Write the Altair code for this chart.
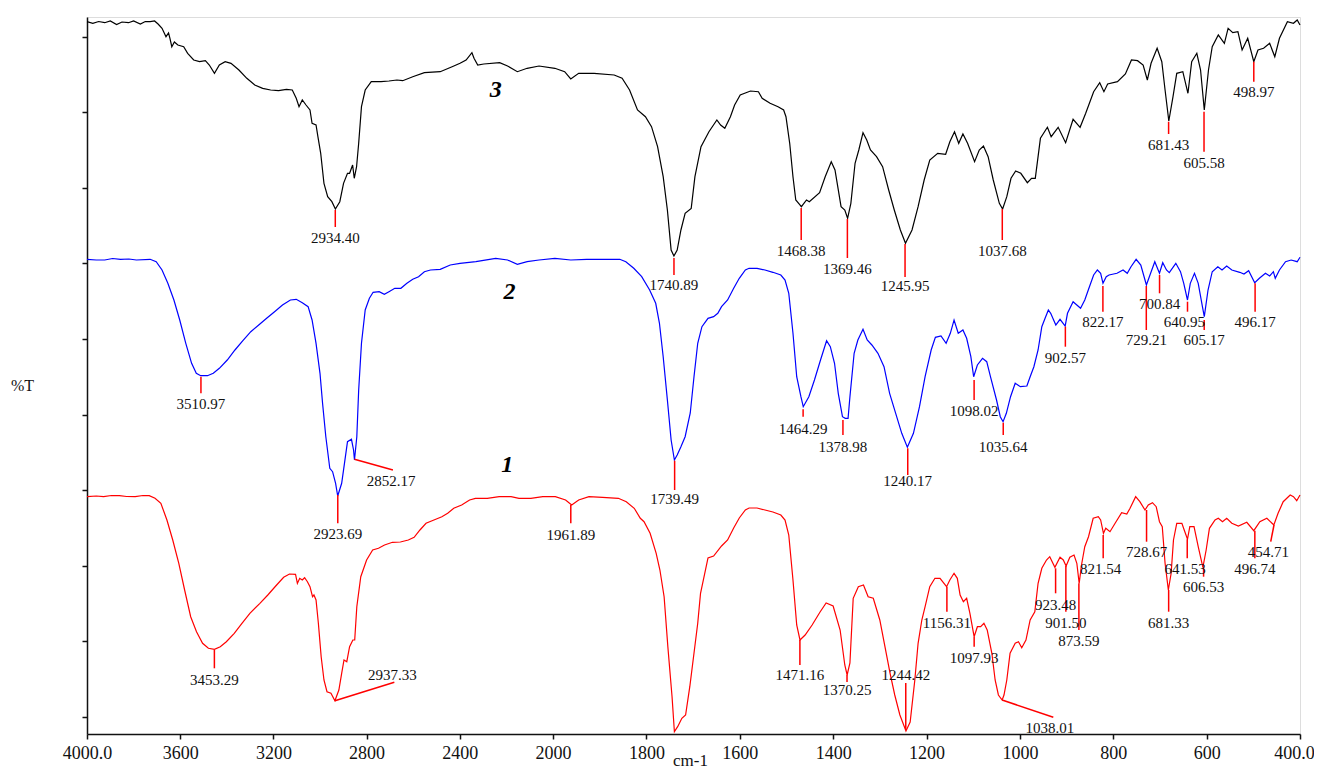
import altair as alt
import pandas as pd

# ---------------- spectra: (wavenumber cm-1, %T offset units) ----------------
SPEC3 = [
    (4000, 712.3), (3975, 710.7), (3950, 712.5), (3924, 711.3), (3900, 713), (3873, 709.5), (3850, 712),
    (3822, 711.3), (3800, 713), (3771, 710), (3750, 712.5), (3729, 712.3), (3710, 713), (3695, 710),
    (3678, 705.7), (3661, 697.3), (3650, 701), (3644, 695.7), (3636, 687.3), (3625, 692), (3610, 689),
    (3585, 687.3), (3568, 680.7), (3542, 674), (3517, 672.3), (3492, 673.3), (3475, 669), (3453, 660.7),
    (3432, 669), (3407, 672.3), (3382, 670.7), (3348, 664), (3314, 655.7), (3280, 649), (3246, 645.7),
    (3212, 644), (3178, 643.3), (3144, 644.7), (3119, 644), (3102, 635.7), (3090, 627.3), (3076, 634),
    (3060, 629), (3043, 624), (3034, 610.7), (3017, 609), (3009, 597.3), (2997, 580.7), (2983, 550.7),
    (2967, 537.3), (2949, 532.3), (2934, 525), (2915, 532.3), (2899, 550.7), (2882, 560.7), (2873, 560.7),
    (2860, 569), (2853, 555.7), (2843, 567.3), (2834, 590.7), (2822, 627.3), (2806, 644), (2780, 652.3),
    (2738, 652.3), (2704, 653), (2670, 654), (2645, 653.3), (2602, 657.3), (2552, 661.3), (2484, 662.3),
    (2433, 667.3), (2399, 670.7), (2373, 674), (2348, 681.3), (2339, 675.7), (2323, 669), (2297, 670),
    (2229, 671.3), (2195, 668), (2153, 662.3), (2111, 665.7), (2060, 668), (1996, 665.7), (1975, 662.3),
    (1962, 655), (1945, 660.7), (1912, 660.7), (1869, 659), (1852, 655.7), (1836, 644), (1819, 624),
    (1802, 617.3), (1789, 607.3), (1776, 587.3), (1764, 557.3), (1755, 524), (1747, 484), (1741, 478),
    (1734, 484), (1726, 504), (1717, 520.7), (1704, 525.5), (1696, 557.3), (1683, 587.3), (1666, 602.3),
    (1649, 614), (1641, 609), (1632, 605.7), (1620, 617.3), (1611, 629), (1599, 639), (1577, 643),
    (1560, 642.3), (1552, 635.7), (1535, 630.7), (1518, 627.3), (1506, 624), (1501, 617.3), (1493, 590.7),
    (1486, 557.3), (1480, 534), (1472, 529.7), (1468, 527.3), (1457, 534), (1451, 532.3), (1429, 541.3),
    (1417, 557.3), (1404, 572.3), (1396, 564), (1383, 527.3), (1375, 524), (1369, 515.7), (1362, 530.7),
    (1353, 570.7), (1345, 584), (1336, 601.3), (1328, 594), (1320, 584), (1307, 577.3), (1294, 567.3),
    (1281, 544), (1269, 524), (1256, 504), (1245, 490.7), (1231, 504), (1218, 527.3), (1205, 554),
    (1193, 574), (1176, 580.7), (1159, 579.7), (1150, 592.3), (1140, 602.3), (1131, 590.7), (1122, 600),
    (1112, 590.7), (1097, 572.3), (1087, 584), (1078, 588), (1068, 577.3), (1057, 554), (1044, 530.7),
    (1037, 525), (1028, 537.3), (1019, 555.7), (1009, 563), (998, 560.7), (984, 551.3), (975, 555.7),
    (967, 555.7), (956, 595.7), (941, 606.7), (933, 597.3), (918, 606.7), (902, 591.3), (886, 614.7),
    (871, 606.7), (859, 620.7), (842, 642.3), (829, 651.3), (820, 642.3), (812, 650), (791, 652.3),
    (774, 660), (761, 674), (748, 673.3), (736, 669), (727, 654), (719, 670.7), (706, 685.7), (696, 672.3),
    (689, 644), (681, 613), (672, 637.3), (664, 660.7), (651, 662.3), (640, 640.7), (632, 672.3),
    (621, 680.7), (613, 664), (605, 624), (596, 664), (588, 687.3), (575, 699), (562, 690.7), (554, 705.7),
    (544, 701.3), (533, 702.3), (524, 684), (512, 695.7), (499, 672.3), (490, 684), (478, 685.7),
    (465, 690.7), (454, 677.3), (444, 695.7), (427, 712.3), (414, 710.7), (406, 714), (400, 709),
]

SPEC2 = [
    (4000, 474.7), (3960, 474), (3924, 474), (3890, 475.5), (3856, 474.7), (3820, 475), (3788, 474),
    (3729, 474.7), (3703, 472.3), (3678, 464), (3653, 450.7), (3627, 434), (3602, 414), (3576, 390.7),
    (3551, 370.7), (3531, 360.7), (3512, 358.3), (3483, 358.3), (3458, 360.7), (3432, 365.7), (3398, 374),
    (3365, 384), (3331, 393.3), (3297, 402.3), (3263, 409), (3229, 415.7), (3195, 422.3), (3161, 429),
    (3127, 434), (3102, 434.7), (3076, 431.3), (3051, 427.3), (3034, 414), (3017, 390.7), (3000, 360.7),
    (2989, 330.7), (2975, 297.3), (2958, 265.7), (2946, 262.3), (2933, 250.7), (2924, 238), (2907, 250.7),
    (2895, 270.7), (2882, 292.3), (2865, 294.7), (2856, 284), (2852, 274), (2842, 297.3), (2834, 344),
    (2822, 390.7), (2806, 424), (2788, 435.7), (2772, 441.7), (2746, 442.3), (2724, 439.7), (2704, 442.3),
    (2679, 445.7), (2653, 445.7), (2627, 450.7), (2602, 454.7), (2577, 457.3), (2552, 462.3), (2526, 464),
    (2484, 464.7), (2441, 469), (2399, 470.7), (2331, 472.3), (2246, 475.7), (2195, 474), (2153, 469.7),
    (2111, 472.3), (2060, 474), (1996, 475.7), (1962, 474), (1928, 474.7), (1895, 474.7), (1857, 474.7),
    (1844, 472.3), (1827, 465.7), (1810, 457.3), (1793, 444), (1780, 430.7), (1772, 410.7), (1764, 377.3),
    (1755, 334), (1747, 294), (1740, 274), (1734, 279), (1726, 287.3), (1717, 297.3), (1706, 321),
    (1698, 357.3), (1690, 390.7), (1681, 407.3), (1668, 415.7), (1656, 417.3), (1647, 420.7), (1639, 427.3),
    (1626, 434), (1613, 445.7), (1601, 455.7), (1588, 464), (1580, 465.7), (1563, 465.7), (1546, 464),
    (1529, 461.7), (1512, 459), (1503, 454), (1495, 440.7), (1486, 400.7), (1478, 357.3), (1469, 337.3),
    (1464, 327.3), (1452, 337.3), (1440, 354), (1427, 374), (1414, 393.3), (1406, 387.3), (1397, 370.7),
    (1389, 340.7), (1380, 317.3), (1374, 315.7), (1368, 315.7), (1364, 337.3), (1355, 380.7), (1347, 394),
    (1336, 404.7), (1327, 394), (1317, 389), (1304, 380.7), (1291, 367.3), (1279, 340.7), (1266, 320.7),
    (1253, 300.7), (1241, 286.7), (1228, 300.7), (1215, 327.3), (1203, 357.3), (1190, 384), (1181, 396.7),
    (1169, 398), (1158, 390.7), (1149, 400.7), (1141, 414), (1132, 400.7), (1122, 404), (1114, 395.7),
    (1105, 377.3), (1099, 357.3), (1091, 369), (1080, 375.7), (1071, 372.3), (1063, 357.3), (1050, 334),
    (1042, 317.3), (1036, 312.3), (1029, 320.7), (1020, 337.3), (1010, 350.7), (999, 347.3), (985, 348),
    (978, 357.3), (970, 367.3), (961, 384), (953, 407.3), (946, 415.7), (939, 424), (934, 420.7),
    (923, 409), (914, 414.7), (903, 408), (898, 420.7), (886, 432.3), (878, 429), (870, 425.7), (861, 434),
    (851, 447.3), (842, 459), (834, 464), (827, 460.7), (822, 450.7), (815, 457.3), (809, 459), (792, 460.7),
    (779, 464), (770, 460.7), (762, 467.3), (751, 474.7), (741, 469), (732, 454), (729, 449), (720, 460.7),
    (711, 472.3), (701, 460.7), (694, 471.3), (686, 464), (680, 461.3), (666, 470.7), (656, 462.3),
    (649, 450.7), (641, 434), (635, 450.7), (626, 460.7), (618, 450.7), (609, 427.3), (605, 417.3),
    (597, 444), (588, 462.3), (576, 467.3), (567, 464), (557, 468), (546, 464), (529, 461.7), (520, 460),
    (510, 463.3), (497, 451.3), (487, 455.7), (474, 460.7), (465, 458), (457, 462.3), (453, 455.7),
    (444, 464), (431, 472.3), (419, 474), (406, 472.3), (400, 476.7),
]

SPEC1 = [
    (4000, 237.3), (3960, 238), (3929, 237.3), (3895, 238.5), (3861, 238.3), (3830, 237.5), (3793, 237.3),
    (3760, 238.5), (3733, 238.3), (3708, 235.7), (3683, 230.7), (3657, 214), (3632, 194), (3606, 170.7),
    (3581, 144), (3555, 117.3), (3530, 102.3), (3504, 90.7), (3479, 85.7), (3453, 84.7), (3428, 87.3),
    (3402, 92.3), (3368, 100.7), (3335, 110.7), (3301, 120.7), (3258, 130.7), (3224, 139), (3190, 148),
    (3156, 156.7), (3131, 160), (3105, 159.7), (3097, 150.7), (3087, 155.7), (3076, 154), (3066, 156.3),
    (3054, 152.3), (3043, 147.3), (3032, 137.3), (3026, 139), (3017, 134), (3007, 110.7), (2995, 77.3),
    (2983, 54), (2970, 42.3), (2953, 40.7), (2936, 33.3), (2919, 44), (2907, 60.7), (2897, 74), (2885, 72.3),
    (2873, 87.3), (2859, 94), (2851, 94), (2842, 127.3), (2825, 157.3), (2800, 174), (2774, 184),
    (2749, 185.7), (2723, 189), (2689, 191.7), (2655, 192), (2621, 194), (2596, 196.7), (2571, 204),
    (2545, 210.7), (2511, 214), (2477, 217.3), (2452, 220.7), (2426, 225.7), (2392, 229), (2358, 234),
    (2333, 235.7), (2282, 235.7), (2231, 237.3), (2180, 237.3), (2146, 235.7), (2095, 235.7), (2044, 237.3),
    (1995, 237.3), (1973, 234), (1960, 229), (1945, 234), (1923, 237.3), (1894, 236.7), (1860, 235.7),
    (1843, 232.3), (1826, 225.7), (1813, 215.7), (1805, 212.3), (1792, 200.7), (1779, 180.7), (1771, 164),
    (1762, 137.3), (1754, 87.3), (1745, 37.3), (1740, 2.3), (1733, 7.3), (1724, 15.7), (1716, 19),
    (1707, 47.3), (1690, 110.7), (1684, 140.7), (1668, 176), (1656, 178), (1639, 188), (1626, 194),
    (1613, 206), (1601, 216), (1588, 224), (1580, 226), (1563, 226), (1546, 224), (1529, 222), (1512, 219),
    (1503, 214), (1495, 199), (1486, 154), (1478, 109), (1471, 94), (1460, 99), (1445, 109), (1428, 122),
    (1415, 131), (1400, 128), (1385, 104), (1375, 69), (1370, 59), (1364, 71), (1357, 135.7), (1346, 147.3),
    (1335, 149), (1325, 137.3), (1314, 135.7), (1300, 114), (1289, 87.3), (1278, 60.7), (1268, 39),
    (1257, 19), (1244, 3), (1235, 12), (1225, 54), (1218, 90.7), (1210, 114), (1203, 127.3), (1193, 147.3),
    (1182, 155.7), (1171, 155.7), (1157, 147.3), (1150, 154), (1141, 160.7), (1134, 155.7), (1128, 139),
    (1121, 132.3), (1114, 135.7), (1107, 120.7), (1098, 97.3), (1091, 107.3), (1084, 107.3), (1077, 110.7),
    (1070, 104), (1060, 80.7), (1053, 54), (1046, 39), (1038, 34), (1034, 39), (1028, 54), (1021, 80.7),
    (1010, 90.7), (1003, 92.3), (996, 86.3), (987, 94), (978, 114), (968, 122.3), (961, 150.7), (953, 165.7),
    (943, 174), (936, 177.3), (925, 166.7), (914, 176.7), (907, 174), (901, 168), (893, 176.7), (884, 179),
    (878, 170.7), (873, 150.7), (868, 169), (861, 187.3), (853, 197.3), (843, 215.7), (832, 217.3),
    (827, 214), (821, 200.7), (816, 205.7), (807, 202.3), (796, 210.7), (782, 221.3), (771, 220),
    (764, 225.7), (752, 237.3), (743, 232.3), (732, 224), (725, 229), (716, 231.3), (708, 227.3),
    (701, 212.3), (695, 207.3), (689, 170.7), (682, 144), (676, 160.7), (671, 194), (664, 210.7),
    (653, 210.7), (648, 204), (641, 194.7), (636, 207.3), (627, 207.3), (618, 187.3), (608, 166.7),
    (601, 184), (594, 205.7), (582, 214), (575, 215.7), (566, 212.3), (557, 215.7), (546, 210.7), (532, 208),
    (514, 211.7), (499, 203.3), (486, 212.3), (471, 215.7), (456, 209), (447, 220.7), (436, 232.3),
    (421, 239), (414, 237.3), (407, 233.3), (400, 239),
]

SERIES_NAMES = ["3", "2", "1"]
SERIES_COLORS = ["#000000", "#0000ff", "#ff0000"]

# ---------------- peak annotations ----------------
# (label, line x1, line y1, line x2, line y2, text x, text y)
PEAKS = [
    ("2934.40", 2934.4, 524, 2934.4, 507, 2934.4, 496),
    ("1740.89", 1740.89, 476, 1740.89, 459, 1740.89, 449),
    ("1468.38", 1468.38, 526, 1468.38, 494, 1468.38, 483.3),
    ("1369.46", 1369.46, 515, 1369.46, 476, 1369.46, 464.7),
    ("1245.95", 1245.95, 490, 1245.95, 457, 1245.95, 448),
    ("1037.68", 1037.68, 525, 1037.68, 494, 1037.68, 483.3),
    ("681.43", 681.43, 612.3, 681.43, 600, 681.43, 589),
    ("605.58", 605.58, 622.3, 605.58, 582.3, 605.58, 570.7),
    ("498.97", 498.97, 672.3, 498.97, 652.3, 498.97, 642.3),
    ("3510.97", 3510.97, 357.3, 3510.97, 340.7, 3510.97, 330),
    ("2923.69", 2923.69, 239, 2923.69, 210.7, 2923.69, 200),
    ("2852.17", 2852.17, 274.7, 2687, 264, 2695, 253.3),
    ("1739.49", 1739.49, 273.3, 1739.49, 244, 1739.49, 234.7),
    ("1464.29", 1464.29, 324.7, 1464.29, 317.3, 1464.29, 305),
    ("1378.98", 1378.98, 314, 1378.98, 299, 1378.98, 287.3),
    ("1240.17", 1240.17, 285.7, 1240.17, 259, 1240.17, 253.3),
    ("1098.02", 1098.02, 354, 1098.02, 334, 1098.02, 323.3),
    ("1035.64", 1035.64, 311.3, 1035.64, 299, 1035.64, 287.3),
    ("902.57", 902.57, 407.3, 902.57, 387.3, 902.57, 375.7),
    ("822.17", 822.17, 448, 822.17, 422.3, 822.17, 411.7),
    ("729.21", 729.21, 448, 729.21, 404, 729.21, 394),
    ("700.84", 700.84, 459, 700.84, 440.7, 700.84, 429.7),
    ("640.95", 640.95, 432.3, 640.95, 422.3, 647.5, 411.7),
    ("605.17", 605.17, 414, 605.17, 404, 605.17, 394),
    ("496.17", 496.17, 450.7, 496.17, 422.3, 496.17, 411.7),
    ("1961.89", 1961.89, 229, 1961.89, 210.7, 1961.89, 199),
    ("3453.29", 3453.29, 84, 3453.29, 65.7, 3453.29, 54),
    ("2937.33", 2936, 33.3, 2681, 51.7, 2689, 59),
    ("1471.16", 1471.16, 94, 1471.16, 69, 1471.16, 59),
    ("1370.25", 1370.25, 59, 1370.25, 52, 1370.25, 44),
    ("1244.42", 1244.42, 4, 1244.42, 51, 1244.42, 59),
    ("1156.31", 1156.31, 147.3, 1156.31, 122.3, 1156.31, 111.3),
    ("1097.93", 1097.93, 97.3, 1097.93, 87.3, 1097.93, 75.7),
    ("1038.01", 1038, 34, 928.4, 16.7, 935.5, 5.7),
    ("923.48", 923.48, 165.7, 923.48, 140.7, 923.48, 129),
    ("901.50", 901.5, 168, 901.5, 122.3, 901.5, 111.3),
    ("873.59", 873.59, 150.7, 873.59, 104, 873.59, 93.3),
    ("821.54", 821.54, 199, 821.54, 175.7, 826.9, 164.7),
    ("728.67", 728.67, 224, 728.67, 192.3, 728.67, 182.3),
    ("681.33", 681.33, 144, 681.33, 122.3, 681.33, 111.3),
    ("641.53", 641.53, 194.7, 641.53, 175.7, 646.3, 164.7),
    ("606.53", 606.53, 166.7, 606.53, 157.3, 606.53, 146.7),
    ("496.74", 496.74, 203.3, 496.74, 175.7, 496.74, 164.7),
    ("454.71", 455.7, 209, 462.7, 192.3, 467.9, 182.3),
]

# series number labels (text, wavenumber, T)
SERIES_LABELS = [("3", 2246, 644), ("2", 2187, 442.3), ("1", 2196, 269)]

X_TICKS = [4000, 3600, 3200, 2800, 2400, 2000, 1800, 1600, 1400, 1200, 1000, 800, 600, 400]
Y_TICKS = [17, 54.8, 92.6, 130.4, 168.2, 206, 243.8, 281.6, 319.4, 357.2, 395, 432.8,
           470.6, 508.4, 546.2, 584, 621.8, 659.6, 697.4, 717]

# ---------------- build tables ----------------
rows = []
for name, spec in zip(SERIES_NAMES, [SPEC3, SPEC2, SPEC1]):
    for wn, t in spec:
        rows.append({"wn": wn, "T": t, "series": name})
spec_df = pd.DataFrame(rows)

peak_df = pd.DataFrame(PEAKS, columns=["label", "x1", "y1", "x2", "y2", "tx", "ty"])
num_df = pd.DataFrame(SERIES_LABELS, columns=["label", "wn", "T"])

SERIF = "'Liberation Serif', 'Times New Roman', 'DejaVu Serif', serif"
W, H = 1213, 717

xscale = alt.Scale(domain=[4000, 2000, 400], range=[0, 466, W], nice=False, zero=False)
yscale = alt.Scale(domain=[0, 717], nice=False, zero=False)

x_axis = alt.Axis(
    values=X_TICKS,
    labelExpr="datum.value == 4000 || datum.value == 400 ? format(datum.value, '.1f') : format(datum.value, 'd')",
    labelFont=SERIF, labelFontSize=18, labelColor="#111", labelPadding=5,
    labelOverlap=False, labelBound=False, labelFlush=False,
    labelOffset={"condition": {"test": "datum.value == 400", "value": -6}, "value": 0},
    tickSize=5, tickColor="#111", tickWidth=1.5,
    domainColor="#111", domainWidth=1.5, grid=False,
    title="cm-1", titleFont=SERIF, titleFontSize=17, titleFontWeight="normal", titleColor="#111",
    titleX=603, titleY=31, titleAnchor="start", titleAlign="center", titleBaseline="alphabetic",
)
y_axis = alt.Axis(
    values=Y_TICKS, labels=False, tickSize=5, tickColor="#111", tickWidth=1.5,
    domainColor="#111", domainWidth=1.5, grid=False,
    title="%T", titleFont=SERIF, titleFontSize=16, titleFontWeight="normal", titleColor="#111",
    titleAngle=0, titleX=-65, titleY=368, titleAlign="center", titleBaseline="middle",
)

lines = alt.Chart(spec_df).mark_line(strokeWidth=1.2).encode(
    x=alt.X("wn:Q", scale=xscale, axis=x_axis),
    y=alt.Y("T:Q", scale=yscale, axis=y_axis),
    color=alt.Color("series:N", scale=alt.Scale(domain=SERIES_NAMES, range=SERIES_COLORS), legend=None),
    detail="series:N",
)

rules = alt.Chart(peak_df).mark_rule(color="#ff0000", strokeWidth=1.5).encode(
    x=alt.X("x1:Q", scale=xscale), x2="x2:Q",
    y=alt.Y("y1:Q", scale=yscale), y2="y2:Q",
)

texts = alt.Chart(peak_df).mark_text(font=SERIF, fontSize=15, color="#111",
                                     align="center", baseline="middle").encode(
    x=alt.X("tx:Q", scale=xscale), y=alt.Y("ty:Q", scale=yscale), text="label:N",
)

nums = alt.Chart(num_df).mark_text(font=SERIF, fontSize=24, fontWeight="bold", fontStyle="italic",
                                   color="#000", align="center", baseline="middle").encode(
    x=alt.X("wn:Q", scale=xscale), y=alt.Y("T:Q", scale=yscale), text="label:N",
)

chart = alt.layer(lines, rules, texts, nums).properties(
    width=W, height=H,
    autosize=alt.AutoSizeParams(type="none"),
    padding={"left": 79, "top": 9, "right": 14, "bottom": 36},
).configure_view(stroke=None).configure(background="white")

chart.save("out.html", embed_options={"renderer": "svg", "actions": False})
